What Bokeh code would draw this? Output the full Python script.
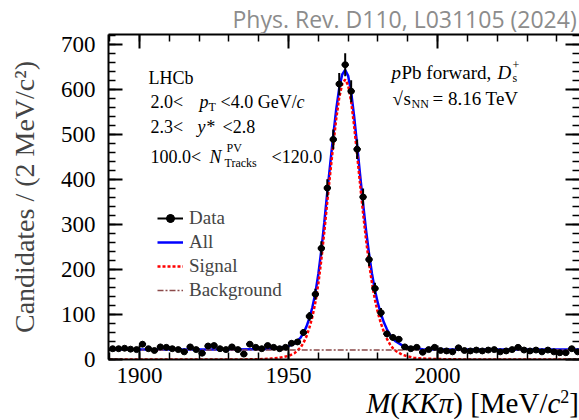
import numpy as np
from bokeh.plotting import figure
from bokeh.layouts import column
from bokeh.models import (Label, Legend, LegendItem, LinearAxis, SingleIntervalTicker,
                          Range1d, ColumnDataSource, Div)
from bokeh.embed import file_html
from bokeh.resources import INLINE

# ---------------- data ----------------
mass = list(range(1891, 2048, 2))
counts = [24, 24, 25, 23, 22, 34, 24, 20, 28, 27,
          24, 22, 17, 28, 22, 14, 30, 31, 24, 22,
          28, 22, 12, 34, 27, 24, 31, 27, 24, 27,
          36, 39, 60, 96, 145, 247, 381, 489, 612, 655,
          596, 467, 361, 222, 158, 104, 57, 49, 45, 28,
          24, 27, 16, 22, 27, 20, 19, 17, 26, 20,
          19, 21, 19, 21, 22, 17, 19, 22, 27, 21,
          19, 21, 17, 21, 17, 15, 15, 24, 17]

fit_x = [1890, 1900, 1910, 1920, 1930, 1940, 1944, 1947, 1950, 1952, 1954, 1955,
         1956, 1957, 1958, 1959, 1960, 1961, 1962, 1963, 1964, 1965, 1966, 1967,
         1968, 1969, 1970, 1971, 1972, 1973, 1974, 1975, 1976, 1977, 1978, 1979,
         1980, 1981, 1982, 1983, 1984, 1985, 1986, 1988, 1990, 1992, 1995, 2000,
         2010, 2020, 2030, 2040, 2048]
fit_all = [22, 22, 22, 22, 22, 23, 24, 26, 30, 36, 48, 59,
           73, 92, 116, 148, 190, 243, 305, 372, 436, 498, 556, 603,
           633, 643, 630, 594, 540, 476, 410, 346, 287, 235, 190, 153,
           124, 101, 82, 67, 55, 46, 40, 32, 28, 25, 23, 22,
           22, 22, 22, 22, 22]
fit_sig = [0, 0, 0, 0, 0, 0.5, 2, 4, 8, 14, 26, 37,
           51, 71, 95, 127, 169, 222, 284, 351, 415, 477, 535, 582,
           612, 622, 609, 573, 519, 455, 389, 325, 266, 214, 169, 132,
           103, 80, 61, 46, 34, 25, 19, 11, 7, 4, 2, 1,
           0, 0, 0, 0, 0]
bkg_x = [1890, 2048]
bkg_y = [21, 21]

x_ticks_major = 50
y_ticks_major = 100

# ---------------- figure ----------------
FL, FB = 108, 359      # frame left / bottom in page pixels (for text placement)
FIG_H = 395            # figure height; x-axis title sits in a Div below

p = figure(width=579, height=FIG_H, output_backend="svg", toolbar_location=None,
           x_range=Range1d(1889.6, 2047.6), y_range=Range1d(0, 722),
           min_border_left=FL, min_border_right=0, min_border_top=33,
           min_border_bottom=FIG_H - FB)
p.outline_line_color = None
p.xgrid.visible = False
p.ygrid.visible = False
p.background_fill_color = "white"
p.border_fill_color = "white"

p.title.text = "Phys. Rev. D110, L031105 (2024)"
p.title.text_font = "Open Sans"
p.title.text_font_size = "23px"
p.title.text_font_style = "normal"
p.title.text_color = "#8c8c8c"
p.title.align = "left"
p.title.offset = 124
p.title.standoff = 0

SERIF = "Liberation Serif"

def style_axis(ax):
    ax.axis_line_width = 2
    ax.major_tick_in = 14
    ax.major_tick_out = 0
    ax.minor_tick_in = 7
    ax.minor_tick_out = 0
    ax.major_tick_line_width = 2
    ax.minor_tick_line_width = 1.5
    ax.major_label_text_font = SERIF
    ax.major_label_text_font_size = "23px"
    ax.major_label_text_color = "black"

p.xaxis.ticker = SingleIntervalTicker(interval=x_ticks_major, num_minor_ticks=5)
p.yaxis.ticker = SingleIntervalTicker(interval=y_ticks_major, num_minor_ticks=5)
for ax in p.xaxis + p.yaxis:
    style_axis(ax)
p.xaxis.major_label_standoff = 8
p.yaxis.major_label_standoff = 13
p.yaxis.axis_label = "Candidates / (2 MeV/c²)"
p.yaxis.axis_label_text_font = SERIF
p.yaxis.axis_label_text_font_size = "28px"
p.yaxis.axis_label_text_font_style = "normal"
p.yaxis.axis_label_standoff = 18

top = LinearAxis(ticker=SingleIntervalTicker(interval=x_ticks_major, num_minor_ticks=5),
                 major_label_overrides={1850: "", 1900: "", 1950: "", 2000: "", 2050: ""})
style_axis(top)
top.major_label_standoff = 0
p.add_layout(top, "above")

right = LinearAxis(ticker=SingleIntervalTicker(interval=y_ticks_major, num_minor_ticks=5),
                   major_label_overrides={v: "" for v in range(0, 800, 100)})
style_axis(right)
right.axis_line_alpha = 0
right.major_label_standoff = 0
p.add_layout(right, "right")

# ---------------- curves ----------------
r_all = p.line(fit_x, fit_all, line_color="#0000ff", line_width=2.5)
r_sig = p.line(fit_x, fit_sig, line_color="#ff0000", line_width=2.5, line_dash="3 2")
r_bkg = p.line(bkg_x, bkg_y, line_color="#8b4a4a", line_width=1.5, line_dash="6 2 2 2")

# ---------------- data points ----------------
m = np.array(mass, dtype=float)
c = np.array(counts, dtype=float)
err = np.sqrt(c)
src = ColumnDataSource(dict(x=m, y=c, ylo=c - err, yhi=c + err, xlo=m - 1.2, xhi=m + 1.2))
p.segment(x0="x", x1="x", y0="ylo", y1="yhi", source=src, line_color="black", line_width=2)
p.segment(x0="xlo", x1="xhi", y0="y", y1="y", source=src, line_color="black", line_width=2.5)
p.scatter(x="x", y="y", source=src, marker="circle", size=6, color="black")

# legend proxies placed outside the visible range
leg_line = p.line([1800, 1801], [-100, -100], line_color="black", line_width=2)
leg_cross = p.scatter([1800], [-100], marker="cross", size=16, line_color="black", line_width=2)
leg_dot = p.scatter([1800], [-100], marker="circle", size=6, color="black")

legend = Legend(items=[LegendItem(label="Data", renderers=[leg_line, leg_cross, leg_dot]),
                       LegendItem(label="All", renderers=[r_all]),
                       LegendItem(label="Signal", renderers=[r_sig]),
                       LegendItem(label="Background", renderers=[r_bkg])],
                location=(49, 58))
legend.label_text_font = SERIF
legend.label_text_font_size = "19px"
legend.glyph_width = 26
legend.glyph_height = 20
legend.label_height = 20
legend.spacing = 2
legend.padding = 0
legend.margin = 0
legend.label_standoff = 6
legend.border_line_color = None
legend.background_fill_alpha = 0
p.add_layout(legend)

# ---------------- texts ----------------
def txt(s, X, Y, size=18, style="normal", color="black", font=SERIF):
    p.add_layout(Label(x=X - FL, y=FB - Y, x_units="screen", y_units="screen", text=s,
                       text_font=font, text_font_size=f"{size}px", text_font_style=style,
                       text_color=color, text_baseline="alphabetic", text_align="left"))

txt("LHCb", 148, 77)
txt("2.0<", 150, 101)
txt("p", 199, 101, style="italic")
txt("T", 208, 106, size=12)
txt("<4.0 GeV/", 220, 101)
txt("c", 296, 101, style="italic")
txt("2.3<", 150, 126)
txt("y*", 197, 126, style="italic")
txt("<2.8", 222, 126)
txt("100.0<", 150, 156)
txt("N", 209, 156, style="italic")
txt("PV", 226, 147, size=12)
txt("Tracks", 224, 162, size=12)
txt("<120.0", 271, 156)

txt("p", 391, 72, size=19, style="italic")
txt("Pb forward,", 401, 72, size=19)
txt("D", 497, 72, size=19, style="italic")
txt("s", 512, 77, size=12)
txt("+", 512, 64, size=12)
txt("√", 392, 98, size=19)
txt("s", 403, 98, size=19)
txt("NN", 411, 103, size=12)
txt("= 8.16 TeV", 432, 98, size=19)

# ---------------- x-axis title (mixed italic / upright) ----------------
xtitle_html = (
    '<div style="width:579px;text-align:right;white-space:nowrap;'
    'font-family:\'Liberation Serif\';font-size:29px;line-height:16px;color:black;">'
    '<i>M</i>(<i>KK</i><i>π</i>) [MeV/<i>c</i>'
    '<sup style="font-size:18px;line-height:0;vertical-align:10px;">2</sup>]</div>'
)
xdiv = Div(text=xtitle_html, width=579, height=420 - FIG_H, margin=0,
           styles={"overflow": "visible"})

layout = column(p, xdiv, spacing=0)

open("out.html", "w").write(file_html(layout, INLINE))
